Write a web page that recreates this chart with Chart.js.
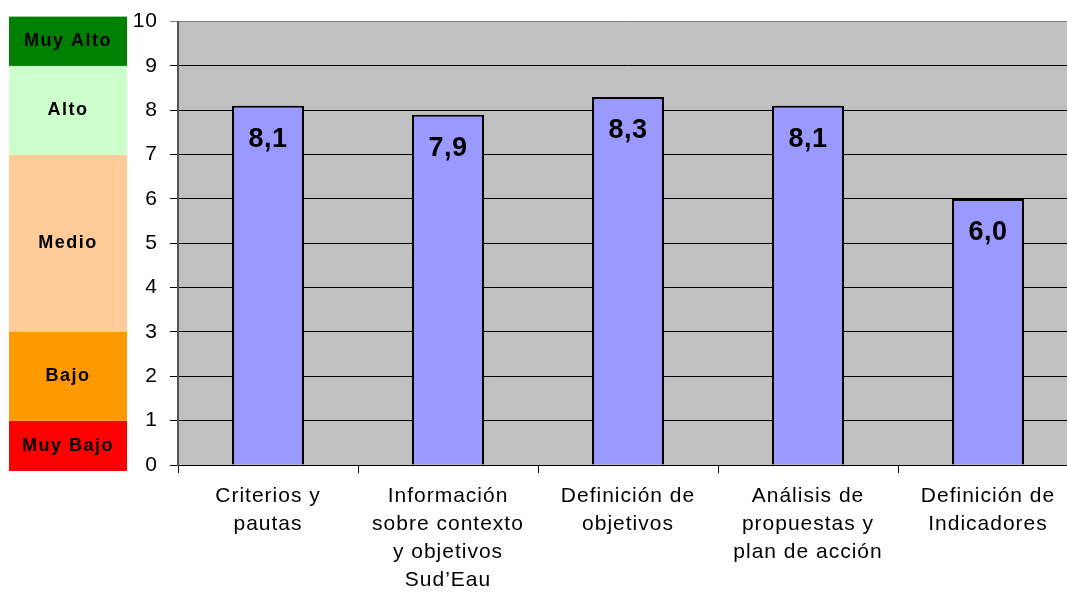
<!DOCTYPE html>
<html><head><meta charset="utf-8">
<script src="https://cdn.jsdelivr.net/npm/chart.js@4"></script>
<style>
html,body{margin:0;padding:0;background:#fff;overflow:hidden;}
#wrap{position:relative;width:1082px;height:595px;margin-top:-3px;}
</style></head>
<body><div id="wrap"><canvas id="c"></canvas></div>
<script>
const categories = [
  ["Criterios y","pautas"],
  ["Información","sobre contexto","y objetivos","Sud’Eau"],
  ["Definición de","objetivos"],
  ["Análisis de","propuestas y","plan de acción"],
  ["Definición de","Indicadores"]
];
const values = [8.1, 7.9, 8.3, 8.1, 6.0];
const valueLabels = ["8,1","7,9","8,3","8,1","6,0"];
const yTicks = [0,1,2,3,4,5,6,7,8,9,10];
const bandNames = ["Muy Bajo","Bajo","Medio","Alto","Muy Alto"];
const bandLimits = [0,1,3,7,9,10];
const bandColors = ["#FF0000","#FF9900","#FFCC99","#CCFFCC","#008000"];

const FONT = '"Liberation Sans", Arial, sans-serif';

const bandsPlugin = {
  id:'bands',
  beforeDraw(chart){
    const ctx = chart.ctx, y = chart.scales.y;
    ctx.save();
    for(let i=0;i<bandNames.length;i++){
      let top = y.getPixelForValue(bandLimits[i+1]);
      let bot = y.getPixelForValue(bandLimits[i]);
      if(i===bandNames.length-1) top -= 5;
      if(i===0) bot += 6;
      ctx.fillStyle = bandColors[i];
      ctx.fillRect(9, top, 118, bot-top);
      ctx.fillStyle = '#000';
      ctx.font = 'bold 18px ' + FONT;
      ctx.letterSpacing = '1.5px';
      ctx.textAlign = 'center';
      ctx.textBaseline = 'middle';
      ctx.fillText(bandNames[i], 68, (top+bot)/2);
    }
    ctx.restore();
    ctx.letterSpacing = '1px';
  }
};
const labelsPlugin = {
  id:'vlabels',
  afterDatasetsDraw(chart){
    const ctx = chart.ctx;
    const meta = chart.getDatasetMeta(0);
    ctx.save();
    ctx.letterSpacing = '0.5px';
    ctx.fillStyle = '#000';
    ctx.font = 'bold 27px ' + FONT;
    ctx.textAlign = 'center';
    ctx.textBaseline = 'middle';
    meta.data.forEach((bar,i)=>{
      ctx.fillText(valueLabels[i], bar.x, bar.y + 34);
    });
    ctx.restore();
  }
};

new Chart(document.getElementById('c'), {
  type:'bar',
  data:{labels:categories, datasets:[{
    data:values,
    backgroundColor:'#9999FF',
    borderColor:'#000',
    borderWidth:2,
    borderSkipped:'bottom',
    categoryPercentage:1.0,
    barPercentage:0.4
  }]},
  options:{
    responsive:true, maintainAspectRatio:false, animation:false,
    devicePixelRatio:1,
    layout:{padding:{top:18,right:4,left:0,bottom:0}},
    plugins:{legend:{display:false},tooltip:{enabled:false}},
    scales:{
      x:{
        grid:{display:true, drawOnChartArea:false, drawTicks:true, tickLength:8, color:'#000', offset:true},
        border:{display:true, color:'#000', width:1},
        ticks:{color:'#000', font:{family:FONT, size:21, lineHeight:1.33}, maxRotation:0, autoSkip:false, padding:9},
        afterFit(s){ s.height = 127; }
      },
      y:{
        min:0, max:10,
        afterBuildTicks(s){ s.ticks = yTicks.map(v=>({value:v})); },
        grid:{color:(c)=> c.tick && c.tick.value===10 ? '#808080' : '#000', lineWidth:1, tickLength:8, drawTicks:true},
        border:{display:true, color:'#555', width:2},
        ticks:{color:'#000', font:{family:FONT, size:21}, padding:12},
        afterFit(s){ s.width = 178; }
      }
    }
  },
  plugins:[bandsPlugin, labelsPlugin, {
    id:'areabg',
    beforeDraw(chart){
      const a = chart.chartArea, ctx = chart.ctx;
      ctx.save(); ctx.fillStyle='#C0C0C0';
      ctx.fillRect(a.left, a.top, a.right-a.left, a.bottom-a.top);
      ctx.restore();
    }
  }]
});
</script></body></html>
